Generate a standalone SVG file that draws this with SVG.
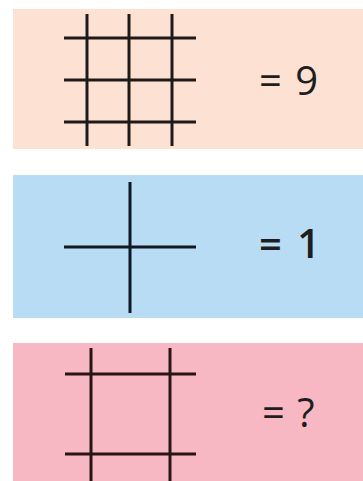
<svg xmlns="http://www.w3.org/2000/svg" width="363" height="481" viewBox="0 0 363 481">
<style>
.ln{stroke:#1e1a1a;stroke-width:3;stroke-linecap:butt;fill:none}
.lb{font-family:"Open Sans","DejaVu Sans",sans-serif;font-size:40px;fill:#1e1e1e}
</style>
<rect width="363" height="481" fill="#ffffff"/>
<g id="panel-9">
<rect x="13" y="9" width="350" height="140" fill="#fde1d3"/>
<line class="ln" x1="87" y1="14" x2="87" y2="146"/>
<line class="ln" x1="129" y1="14" x2="129" y2="146"/>
<line class="ln" x1="172" y1="14" x2="172" y2="146"/>
<line class="ln" x1="64" y1="38" x2="196" y2="38"/>
<line class="ln" x1="64" y1="80" x2="196" y2="80"/>
<line class="ln" x1="64" y1="122" x2="196" y2="122"/>
<text class="lb" x="259" y="95">=<tspan dx="3"> 9</tspan></text>
</g>
<g id="panel-1">
<rect x="13" y="175" width="350" height="143" fill="#b8dcf3"/>
<line class="ln" x1="130" y1="182" x2="130" y2="313" style="stroke:#0f1824"/>
<line class="ln" x1="64" y1="247" x2="196" y2="247" style="stroke:#0f1824"/>
<text class="lb" x="259" y="258" font-weight="600">=<tspan dx="5"> 1</tspan></text>
</g>
<g id="panel-q">
<rect x="13" y="343" width="350" height="138" fill="#f8b8c3"/>
<line class="ln" x1="91" y1="348" x2="91" y2="481" style="stroke:#2a1515"/>
<line class="ln" x1="170" y1="348" x2="170" y2="481" style="stroke:#2a1515"/>
<line class="ln" x1="65" y1="374" x2="196" y2="374" style="stroke:#2a1515"/>
<line class="ln" x1="65" y1="454" x2="196" y2="454" style="stroke:#2a1515"/>
<text class="lb" x="262" y="427">=<tspan dx="2"> ?</tspan></text>
</g>
</svg>
